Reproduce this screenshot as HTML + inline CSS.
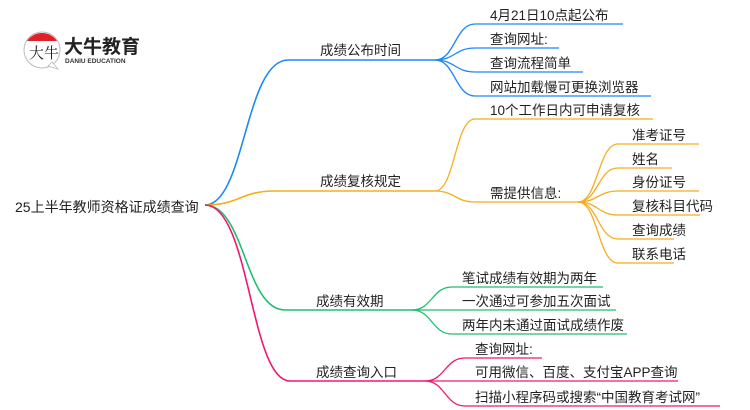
<!DOCTYPE html>
<html><head><meta charset="utf-8"><style>
html,body{margin:0;padding:0;background:#fff;}
svg{display:block;}
text{font-family:"Liberation Sans","Noto Sans CJK SC",sans-serif;font-size:13.5px;fill:#222;}
</style></head><body>
<svg width="750" height="410" viewBox="0 0 750 410" xmlns="http://www.w3.org/2000/svg">
<!-- logo -->
<circle cx="42" cy="50" r="18" fill="#fff" stroke="#bbb" stroke-width="1"/>
<path d="M27 41 A18 18 0 0 1 57 41 Z" fill="#e0202a"/>
<path d="M48 66 L58 69 L52 62 Z" fill="#fff" stroke="#bbb" stroke-width="0.8"/>
<text x="29" y="58" style="font-size:15px;font-family:'Noto Serif CJK SC',serif;fill:#222">大牛</text>
<text x="64" y="53" style="font-size:19px;font-weight:bold;fill:#222">大牛教育</text>
<text x="65" y="63" style="font-size:6.5px;font-weight:bold;fill:#333">DANIU EDUCATION</text>

<text x="15" y="212" style="font-size:14px">25上半年教师资格证成绩查询</text>

<g fill="none" stroke-width="1.6">
<!-- blue -->
<path d="M205 205 C245 205 245 60 288 60 L435 60" stroke="#1e88f5"/>
<g stroke="#1e88f5" stroke-width="1.3">
<path d="M435 60 C455 60 455 24 475 24 L623 24"/>
<path d="M435 60 C455 60 455 48 475 48 L559 48"/>
<path d="M435 60 C455 60 455 72 475 72 L583 72"/>
<path d="M435 60 C455 60 455 96 475 96 L651 96"/>
</g>
<!-- orange -->
<path d="M205 205 C240 205 240 191 275 191 L435 191" stroke="#f5ad1e"/>
<g stroke="#f5ad1e" stroke-width="1.3">
<path d="M435 191 C455 191 455 119 475 119 L653 119"/>
<path d="M435 191 C455 191 455 202 475 202 L578 202"/>
<path d="M578 202 C598 202 598 144 618 144 L699 144"/>
<path d="M578 202 C598 202 598 168 618 168 L672 168"/>
<path d="M578 202 C598 202 598 191 618 191 L699 191"/>
<path d="M578 202 C598 202 598 215 618 215 L700 215"/>
<path d="M578 202 C598 202 598 239 618 239 L674 239"/>
<path d="M578 202 C598 202 598 263 618 263 L674 263"/>
</g>
<!-- green -->
<path d="M205 205 C245 205 245 310 285 310 L412 310" stroke="#1fbf6e"/>
<g stroke="#1fbf6e" stroke-width="1.3">
<path d="M412 310 C432 310 432 287 452 287 L603 287"/>
<path d="M412 310 L616 310"/>
<path d="M412 310 C432 310 432 334 452 334 L627 334"/>
</g>
<!-- pink -->
<path d="M205 205 C250 205 250 381 290 381 L425 381" stroke="#f0186e"/>
<g stroke="#f0186e" stroke-width="1.3">
<path d="M425 381 C445 381 445 358 465 358 L542 358"/>
<path d="M425 381 L678 381"/>
<path d="M425 381 C445 381 445 406 465 406 L720 406"/>
</g>
</g>

<text x="320" y="55">成绩公布时间</text>
<text x="490" y="20">4月21日10点起公布</text>
<text x="490" y="44">查询网址:</text>
<text x="490" y="68">查询流程简单</text>
<text x="490" y="92">网站加载慢可更换浏览器</text>

<text x="320" y="186">成绩复核规定</text>
<text x="490" y="115">10个工作日内可申请复核</text>
<text x="490" y="198">需提供信息:</text>
<text x="632" y="140">准考证号</text>
<text x="632" y="164">姓名</text>
<text x="632" y="187">身份证号</text>
<text x="632" y="211">复核科目代码</text>
<text x="632" y="235">查询成绩</text>
<text x="632" y="259">联系电话</text>

<text x="316" y="306">成绩有效期</text>
<text x="462" y="283">笔试成绩有效期为两年</text>
<text x="462" y="306">一次通过可参加五次面试</text>
<text x="462" y="330">两年内未通过面试成绩作废</text>

<text x="316" y="377">成绩查询入口</text>
<text x="475" y="354">查询网址:</text>
<text x="475" y="377">可用微信、百度、支付宝APP查询</text>
<text x="475" y="402">扫描小程序码或搜索“中国教育考试网”</text>
</svg>
</body></html>
